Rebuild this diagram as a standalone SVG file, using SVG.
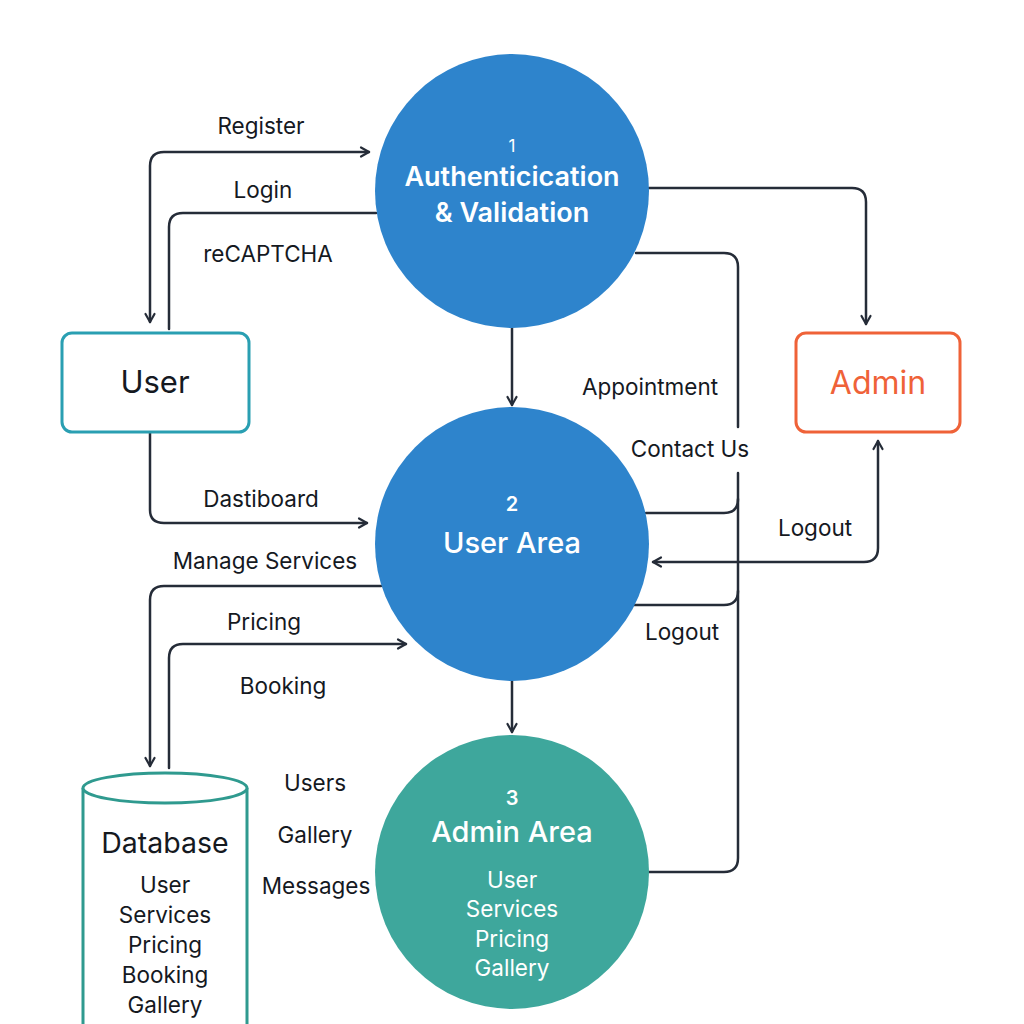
<svg xmlns="http://www.w3.org/2000/svg" width="1024" height="1024" viewBox="0 0 1024 1024">
<style>
.bg{fill:#ffffff}
.conn{fill:none;stroke:#252c38;stroke-width:2.5;stroke-linecap:round;stroke-linejoin:round}
.lbl{font-family:Inter,"Open Sans","Liberation Sans",sans-serif;font-size:22.5px;fill:#15191f;text-anchor:middle}
.wt{font-family:Inter,"Open Sans","Liberation Sans",sans-serif;fill:#ffffff;text-anchor:middle}
.proc{fill:#2e84cc}
.proc3{fill:#3ea79c}
.dk{font-family:Inter,"Open Sans","Liberation Sans",sans-serif;fill:#15191f;text-anchor:middle}
</style>
<defs>
<marker id="arr" viewBox="0 0 12 12" refX="10" refY="6" markerWidth="12" markerHeight="12" markerUnits="userSpaceOnUse" orient="auto-start-reverse">
<path d="M2,1.5 L10,6 L2,10.5" fill="none" stroke="#252c38" stroke-width="2.2" stroke-linecap="round" stroke-linejoin="round"/>
</marker>
</defs>
<rect class="bg" x="0" y="0" width="1024" height="1024"/>

<g id="connectors">
<path class="conn" d="M150,322 L150,166 Q150,152 164,152 L369,152" marker-start="url(#arr)" marker-end="url(#arr)"/>
<path class="conn" d="M376,213 L183,213 Q169,213 169,227 L169,329"/>
<path class="conn" d="M649,188 L852,188 Q866,188 866,202 L866,324" marker-end="url(#arr)"/>
<path class="conn" d="M636,253 L724,253 Q738,253 738,267 L738,427"/>
<path class="conn" d="M738,473 L738,858 Q738,872 724,872 L649,872"/>
<path class="conn" d="M646,513 L724,513 Q738,513 738,499"/>
<path class="conn" d="M630,605 L724,605 Q738,605 738,591"/>
<path class="conn" d="M878,441 L878,548 Q878,562 864,562 L653,562" marker-start="url(#arr)" marker-end="url(#arr)"/>
<path class="conn" d="M512,328 L512,405" marker-end="url(#arr)"/>
<path class="conn" d="M512,681 L512,732" marker-end="url(#arr)"/>
<path class="conn" d="M150,433 L150,510 Q150,523 164,523 L367,523" marker-end="url(#arr)"/>
<path class="conn" d="M381,586 L164,586 Q150,586 150,600 L150,766" marker-end="url(#arr)"/>
<path class="conn" d="M169,768 L169,658 Q169,644 183,644 L406,644" marker-end="url(#arr)"/>
</g>

<g id="labels">
<text class="lbl" x="261" y="134">Register</text>
<text class="lbl" x="263" y="198">Login</text>
<text class="lbl" x="268" y="262">reCAPTCHA</text>
<text class="lbl" x="650" y="395">Appointment</text>
<text class="lbl" x="690" y="457">Contact Us</text>
<text class="lbl" x="815" y="536">Logout</text>
<text class="lbl" x="682" y="640">Logout</text>
<text class="lbl" x="261" y="507">Dastiboard</text>
<text class="lbl" x="265" y="569">Manage Services</text>
<text class="lbl" x="264" y="630">Pricing</text>
<text class="lbl" x="283" y="694">Booking</text>
<text class="lbl" x="315" y="791">Users</text>
<text class="lbl" x="315" y="843">Gallery</text>
<text class="lbl" x="316" y="894">Messages</text>
</g>

<g id="auth">
<circle class="proc" cx="512" cy="191" r="137"/>
<text class="wt" x="512" y="152" font-size="17">1</text>
<text class="wt" x="512" y="186" font-size="27" font-weight="600">Authenticication</text>
<text class="wt" x="512" y="222" font-size="27" font-weight="600">&amp; Validation</text>
</g>

<g id="userarea">
<circle class="proc" cx="512" cy="544" r="137"/>
<text class="wt" x="512" y="511" font-size="20" font-weight="600">2</text>
<text class="wt" x="512" y="553" font-size="29" font-weight="500">User Area</text>
</g>

<g id="adminarea">
<circle class="proc3" cx="512" cy="872" r="137"/>
<text class="wt" x="512" y="805" font-size="20" font-weight="600">3</text>
<text class="wt" x="512" y="842" font-size="29" font-weight="500">Admin Area</text>
<text class="wt" x="512" y="888" font-size="22.5">User</text>
<text class="wt" x="512" y="917" font-size="22.5">Services</text>
<text class="wt" x="512" y="947" font-size="22.5">Pricing</text>
<text class="wt" x="512" y="976" font-size="22.5">Gallery</text>
</g>

<g id="user">
<rect x="62" y="333" width="187" height="99" rx="10" fill="#ffffff" stroke="#2a9fb2" stroke-width="3"/>
<text class="dk" x="155" y="393" font-size="31">User</text>
</g>

<g id="admin">
<rect x="796" y="333" width="164" height="99" rx="10" fill="#ffffff" stroke="#ef6238" stroke-width="3"/>
<text x="878" y="394" font-family="Inter,'Open Sans','Liberation Sans',sans-serif" font-size="32" fill="#ef6238" text-anchor="middle">Admin</text>
</g>

<g id="database">
<path d="M83,788 L83,1030 M247,788 L247,1030" fill="none" stroke="#2f9a8f" stroke-width="3"/>
<ellipse cx="165" cy="788" rx="82" ry="15" fill="#ffffff" stroke="#2f9a8f" stroke-width="3"/>
<text class="dk" x="165" y="853" font-size="28.5">Database</text>
<text class="dk" x="165" y="893" font-size="22.5">User</text>
<text class="dk" x="165" y="923" font-size="22.5">Services</text>
<text class="dk" x="165" y="953" font-size="22.5">Pricing</text>
<text class="dk" x="165" y="983" font-size="22.5">Booking</text>
<text class="dk" x="165" y="1013" font-size="22.5">Gallery</text>
</g>
</svg>
